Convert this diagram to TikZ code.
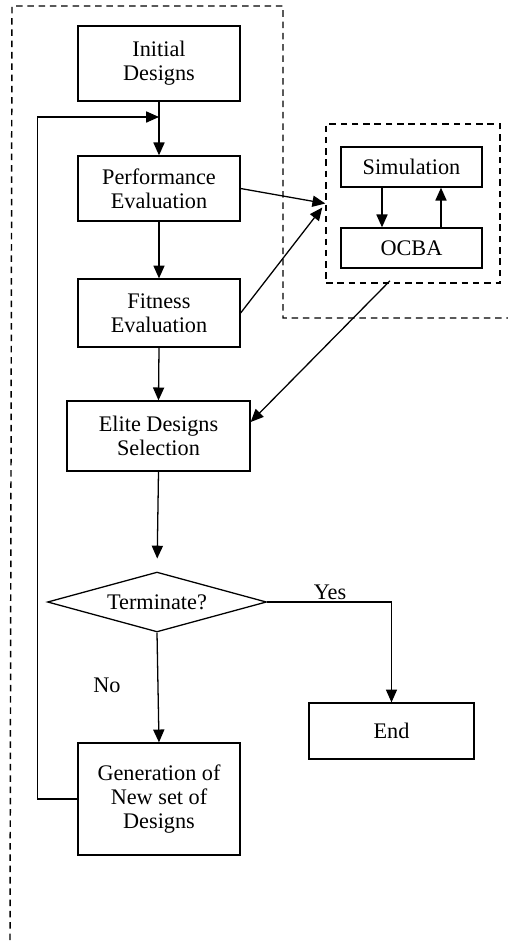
\documentclass[tikz,border=0pt]{standalone}
\usepackage{fontspec}
\setmainfont{Liberation Serif}
\usetikzlibrary{shapes.geometric, arrows.meta}

\begin{document}
\begin{tikzpicture}[x=0.584pt, y=-0.584pt, line width=0.75pt,
	>={Triangle[length=7.5pt, width=6.5pt]},
	font=\fontsize{13}{14}\selectfont,
	block/.style={rectangle, draw, align=center, inner sep=0pt},
	region/.style={line width=0.85pt, dash pattern=on 3.8pt off 2.8pt}]
\useasboundingbox (0, 0) rectangle (508, 944);

\path	(159, 63.5)		node(initial_designs)	[block, minimum width=94.6pt, minimum height=43.8pt]	{Initial\\Designs}
		(159, 188.5)	node(performance)		[block, minimum width=94.6pt, minimum height=38pt]		{Performance\\Evaluation}
		(159, 313)		node(fitness)			[block, minimum width=94.6pt, minimum height=39.7pt]	{Fitness\\Evaluation}
		(158.5, 436)	node(elite)				[block, minimum width=106.9pt, minimum height=40.9pt]	{Elite Designs\\Selection}
		(157, 602)		node(terminate)			[diamond, draw, shape aspect=3.6, inner sep=0pt, minimum width=127.9pt, minimum height=35pt]	{Terminate?}
		(159, 799)		node(generation)		[block, minimum width=94.6pt, minimum height=65.4pt]	{Generation of\\New set of\\Designs}
		(391.5, 731)	node(end)				[block, minimum width=96.4pt, minimum height=32.7pt]	{End}
		(411.5, 167)	node(simulation)		[block, minimum width=82.3pt, minimum height=23.4pt]	{Simulation}
		(411.5, 248)	node(ocba)				[block, minimum width=82.3pt, minimum height=23.4pt]	{OCBA}
		(413, 203.5)	node(engine)			[rectangle, draw, region, minimum width=101.6pt, minimum height=92.9pt]	{}
		(330, 592)		node(yes)				{Yes}
		(107, 685)		node(no)				{No};

\coordinate (merge) at (159, 117);

% outer region
\draw[region]	(10, 940) -- (12, 6) -- (283, 6) -- (283, 318) -- (508, 318);

\draw[->]	(initial_designs.south)		--						(performance.north);
\draw[->]	(performance.south)			--						(fitness.north);
\draw[->]	(fitness.south)				--						(elite.north);
\draw[->, shorten >=7.5pt]	(elite.south)	--					(terminate.north);
\draw[->]	(terminate.south)			--						(generation.north);
\draw[->]	(terminate.east)			-|						(end.north);
\draw[->]	(generation.west)			-- ++(-40, 0) |-		(merge);

\draw[->]	(performance.east)			--						(engine.west);
\draw[->]	(fitness.east)				--						([shift={(-3, 4)}]engine.west);
\draw[->]	([shift={(-23, -3)}]engine.south)	--				([shift={(0, -14)}]elite.east);

\draw[->]	([shift={(-29.5, 0)}]simulation.south)	--			([shift={(-29.5, 0)}]ocba.north);
\draw[->]	([shift={(29.5, 0)}]ocba.north)			--			([shift={(29.5, 0)}]simulation.south);
\end{tikzpicture}
\end{document}
